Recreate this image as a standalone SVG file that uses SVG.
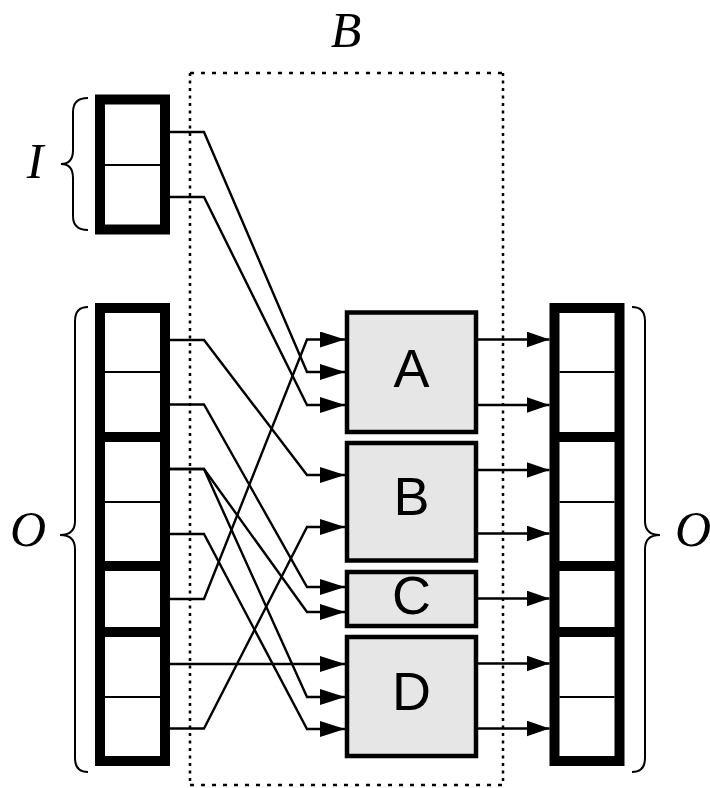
<svg xmlns="http://www.w3.org/2000/svg" width="710" height="788" viewBox="0 0 710 788">
<style>
.lbl{font-family:"Liberation Serif","Times New Roman",serif;font-style:italic;font-size:50px;fill:#000}
.box{fill:#e6e6e6;stroke:#000;stroke-width:4.5}
.name{font-family:"Liberation Sans",Arial,sans-serif;font-size:54px;fill:#000;text-anchor:middle}
.col{fill:#fff;stroke:#000;stroke-width:10}
.thick{stroke:#000;stroke-width:10}
.thin{stroke:#000;stroke-width:2}
.brace{fill:none;stroke:#000;stroke-width:2}
.conn{fill:none;stroke:#000;stroke-width:2.4}
.al{marker-end:url(#ahl)}
.ar{marker-end:url(#ahr)}
.dv{stroke:#000;stroke-width:2.5;stroke-dasharray:3 4.5}
.dh{stroke:#000;stroke-width:2.5;stroke-dasharray:4 7}
</style>
<defs>
<marker id="ahl" markerUnits="userSpaceOnUse" markerWidth="30" markerHeight="20" refX="25" refY="8" orient="auto">
<path d="M0,0 L25,8 L0,16 z" fill="#000"/>
</marker>
<marker id="ahr" markerUnits="userSpaceOnUse" markerWidth="30" markerHeight="20" refX="23" refY="8" orient="auto">
<path d="M0,0 L23,8 L0,16 z" fill="#000"/>
</marker>
</defs>
<rect width="710" height="788" fill="#fff"/>
<g id="boundary">
<line class="dh" x1="190" y1="73" x2="503" y2="73"/>
<line class="dh" x1="190" y1="785" x2="503" y2="785"/>
<line class="dv" x1="190" y1="73" x2="190" y2="785"/>
<line class="dv" x1="503" y1="73" x2="503" y2="785"/>
<text class="lbl" x="346" y="47" text-anchor="middle">B</text>
</g>
<g id="connectors">
<path class="conn al" d="M170,132 H204 L307,372 H345"/>
<path class="conn al" d="M170,197 H204 L307,405 H345"/>
<path class="conn al" d="M170,340 H204 L307,475 H345"/>
<path class="conn al" d="M170,404.5 H204 L307,587 H345"/>
<path class="conn al" d="M170,469 H204 L307,612 H345"/>
<path class="conn al" d="M170,469 H204 L307,697 H345"/>
<path class="conn al" d="M170,534 H204 L307,729 H345"/>
<path class="conn al" d="M170,599 H204 L307,339.5 H345"/>
<path class="conn al" d="M170,664 H345"/>
<path class="conn al" d="M170,728.5 H204 L307,527 H345"/>
<path class="conn ar" d="M478,339.5 H549.5"/>
<path class="conn ar" d="M478,405 H549.5"/>
<path class="conn ar" d="M478,470 H549.5"/>
<path class="conn ar" d="M478,533.5 H549.5"/>
<path class="conn ar" d="M478,598.5 H549.5"/>
<path class="conn ar" d="M478,663.5 H549.5"/>
<path class="conn ar" d="M478,728.5 H549.5"/>
</g>
<g id="input">
<rect class="col" x="100" y="99.5" width="65" height="130"/>
<line class="thin" x1="105" y1="165" x2="160" y2="165"/>
<path class="brace" d="M88,98 Q73,98 73,112 L73,150 Q73,164 61,164 Q73,164 73,178 L73,216 Q73,230 88,230"/>
<text class="lbl" x="35" y="178" text-anchor="middle">I</text>
</g>
<g id="output-left">
<rect class="col" x="100" y="308" width="65" height="453"/>
<line class="thick" x1="100" y1="437" x2="165" y2="437"/>
<line class="thick" x1="100" y1="566" x2="165" y2="566"/>
<line class="thick" x1="100" y1="632" x2="165" y2="632"/>
<line class="thin" x1="105" y1="372" x2="160" y2="372"/>
<line class="thin" x1="105" y1="502" x2="160" y2="502"/>
<line class="thin" x1="105" y1="697" x2="160" y2="697"/>
<path class="brace" d="M88,307 Q75,307 75,321 L75,521 Q75,535 60,535 Q75,535 75,549 L75,758 Q75,772 88,772"/>
<text class="lbl" x="28" y="546" text-anchor="middle">O</text>
</g>
<g id="output-right">
<rect class="col" x="554.5" y="308" width="65" height="453"/>
<line class="thick" x1="554.5" y1="437" x2="619.5" y2="437"/>
<line class="thick" x1="554.5" y1="566" x2="619.5" y2="566"/>
<line class="thick" x1="554.5" y1="632" x2="619.5" y2="632"/>
<line class="thin" x1="559.5" y1="372" x2="614.5" y2="372"/>
<line class="thin" x1="559.5" y1="502" x2="614.5" y2="502"/>
<line class="thin" x1="559.5" y1="697" x2="614.5" y2="697"/>
<path class="brace" d="M632,307 Q645,307 645,321 L645,521 Q645,535 660,535 Q645,535 645,549 L645,758 Q645,772 632,772"/>
<text class="lbl" x="693" y="546" text-anchor="middle">O</text>
</g>
<g id="nodeA">
<rect class="box" x="347" y="312.5" width="129" height="119.5"/>
<text class="name" x="411.5" y="387">A</text>
</g>
<g id="nodeB">
<rect class="box" x="347" y="443" width="129" height="117.5"/>
<text class="name" x="411.5" y="515">B</text>
</g>
<g id="nodeC">
<rect class="box" x="347" y="572" width="129" height="54"/>
<text class="name" x="411.5" y="614">C</text>
</g>
<g id="nodeD">
<rect class="box" x="347" y="637" width="129" height="119"/>
<text class="name" x="411.5" y="710">D</text>
</g>
</svg>
